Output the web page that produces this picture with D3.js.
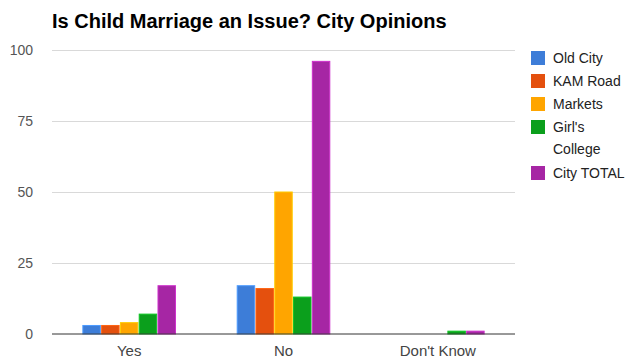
<!DOCTYPE html>
<html>
<head>
<meta charset="utf-8">
<script src="https://cdn.jsdelivr.net/npm/d3@7"></script>
<style>
  html, body { margin: 0; padding: 0; background: #fff; }
  svg { display: block; font-family: Arial, "Liberation Sans", sans-serif; }
</style>
</head>
<body>
<svg id="chart" width="629" height="364"></svg>
<script>
// Survey responses per area
const categories = ["Yes", "No", "Don't Know"];
const seriesNames = ["Old City", "KAM Road", "Markets", "Girl's College", "City TOTAL"];
const oldCity      = [3, 17, 0];
const kamRoad      = [3, 16, 0];
const markets      = [4, 50, 0];
const girlsCollege = [7, 13, 1];
const cityTotal    = [17, 96, 1];
const yTicks = [0, 25, 50, 75, 100];
const colors = ["#3d7dd8", "#e4500e", "#ffa500", "#0b9f1c", "#a626a4"];

const seriesValues = [oldCity, kamRoad, markets, girlsCollege, cityTotal];

const svg = d3.select("#chart");
const margin = { left: 52, right: 114, top: 50, bottom: 30 };
const W = 629, H = 364;
const plotL = margin.left, plotR = W - margin.right;
const plotT = margin.top, plotB = H - margin.bottom;
const font = "Arial, 'Liberation Sans', sans-serif";

const y = d3.scaleLinear().domain([0, 100]).range([plotB, plotT]);
const x0 = d3.scaleBand().domain(categories).range([plotL, plotR])
  .paddingInner(0.4).paddingOuter(0.2);
const x1 = d3.scaleBand().domain(seriesNames).range([0, x0.bandwidth()])
  .paddingInner(0.07).paddingOuter(0);
const color = d3.scaleOrdinal().domain(seriesNames).range(colors);

// Title
svg.append("text")
  .attr("x", plotL).attr("y", 28)
  .attr("font-size", 20).attr("font-weight", "bold").attr("fill", "#000")
  .text("Is Child Marriage an Issue? City Opinions");

// Gridlines and y labels
const yAxis = d3.axisLeft(y).tickValues(yTicks).tickSize(-(plotR - plotL)).tickPadding(19);
const gy = svg.append("g").attr("transform", `translate(${plotL},0)`).call(yAxis);
gy.select(".domain").remove();
gy.selectAll(".tick line").attr("stroke", d => d === 0 ? "none" : "#d9d9d9");
gy.selectAll(".tick text").attr("fill", "#555").attr("font-size", 14)
  .attr("font-family", font);

// Bars
const rows = categories.map((c, i) => ({ cat: c, vals: seriesNames.map((s, j) => ({ s, v: seriesValues[j][i] })) }));
const groups = svg.append("g").selectAll("g").data(rows).join("g")
  .attr("transform", d => `translate(${x0(d.cat)},0)`);
groups.selectAll("rect").data(d => d.vals.filter(e => e.v > 0)).join("rect")
  .attr("x", d => x1(d.s))
  .attr("y", d => y(d.v))
  .attr("width", x1.bandwidth())
  .attr("height", d => y(0) - y(d.v))
  .attr("fill", d => color(d.s))
  .attr("stroke", d => d3.color(color(d.s)).brighter(0.6))
  .attr("stroke-width", 1);

// Baseline
svg.append("line")
  .attr("x1", plotL).attr("x2", plotR)
  .attr("y1", y(0)).attr("y2", y(0))
  .attr("stroke", "#333").attr("stroke-width", 1);

// X labels
const xAxis = d3.axisBottom(x0).tickSize(0).tickPadding(11);
const gx = svg.append("g").attr("transform", `translate(0,${plotB})`).call(xAxis);
gx.select(".domain").remove();
gx.selectAll(".tick text").attr("fill", "#444").attr("font-size", 15)
  .attr("font-family", font);

// Legend
const legendLines = [["Old City"], ["KAM Road"], ["Markets"], ["Girl's", "College"], ["City TOTAL"]];
let ly = 51;
const legend = svg.append("g");
seriesNames.forEach((s, i) => {
  const g = legend.append("g").attr("transform", `translate(531,${ly})`);
  g.append("rect").attr("width", 14).attr("height", 14).attr("fill", color(s));
  legendLines[i].forEach((t, k) => {
    g.append("text").attr("x", 22).attr("y", 11.5 + k * 22.5)
      .attr("font-size", 14).attr("fill", "#222").text(t);
  });
  ly += 23 * legendLines[i].length;
});
</script>
</body>
</html>
